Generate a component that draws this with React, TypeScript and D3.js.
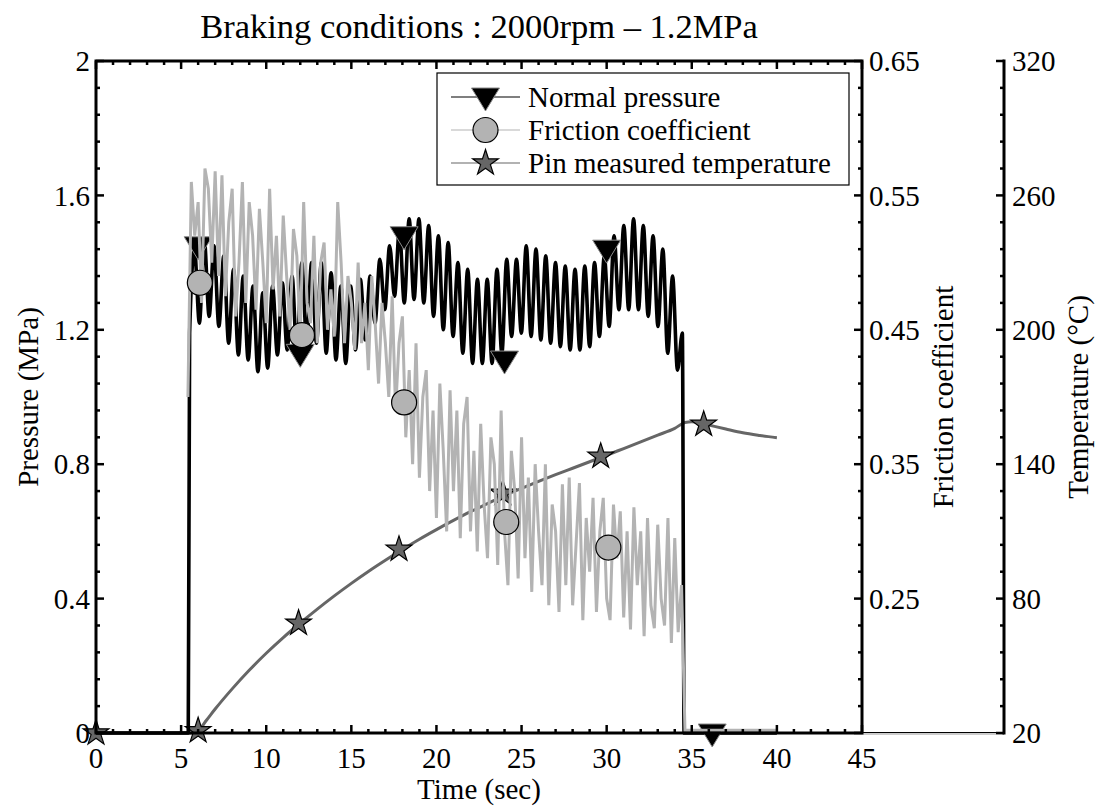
import React from 'react';
import * as d3 from 'd3';

// ---------------- data ----------------
const TITLE = 'Braking conditions : 2000rpm \u2013 1.2MPa';
const X_LABEL = 'Time (sec)';
const Y_LABEL_P = 'Pressure (MPa)';
const Y_LABEL_F = 'Friction coefficient';
const Y_LABEL_T = 'Temperature (\u00B0C)';

const X_TICKS = [0, 5, 10, 15, 20, 25, 30, 35, 40, 45];
const P_TICKS = [0, 0.4, 0.8, 1.2, 1.6, 2];
const P_TICK_LABELS = ['0', '0.4', '0.8', '1.2', '1.6', '2'];
const F_TICKS = [0.25, 0.35, 0.45, 0.55, 0.65];
const F_TICK_LABELS = ['0.25', '0.35', '0.45', '0.55', '0.65'];
const T_TICKS = [20, 80, 140, 200, 260, 320];
const T_TICK_LABELS = ['20', '80', '140', '200', '260', '320'];

const LEGEND_LABELS = ['Normal pressure', 'Friction coefficient', 'Pin measured temperature'];

// Normal pressure (MPa): off, then oscillating between successive peaks and troughs
const PRESSURE_OFF_BEFORE: [number, number][] = [[0, 0], [5.42, 0]];
const PRESSURE_START = 5.5;
const PRESSURE_HALF_PERIOD = 0.2866;
const PRESSURE_FIRST = 1.19;
const pressurePeaks = [
  1.44, 1.47, 1.45, 1.42, 1.38, 1.36, 1.33, 1.31, 1.33, 1.34,
  1.36, 1.40, 1.40, 1.40, 1.37, 1.33, 1.33, 1.35, 1.36, 1.41,
  1.45, 1.50, 1.53, 1.53, 1.51, 1.48, 1.46, 1.40, 1.38, 1.35,
  1.35, 1.38, 1.41, 1.41, 1.45, 1.44, 1.42, 1.40, 1.39, 1.38,
  1.39, 1.40, 1.42, 1.48, 1.51, 1.53, 1.51, 1.48, 1.44, 1.36,
  1.19,
];
const pressureTroughs = [
  1.22, 1.24, 1.21, 1.16, 1.125, 1.11, 1.075, 1.086, 1.125, 1.14,
  1.12, 1.16, 1.16, 1.13, 1.11, 1.10, 1.14, 1.17, 1.22, 1.26,
  1.30, 1.28, 1.29, 1.28, 1.24, 1.20, 1.18, 1.13, 1.10, 1.10,
  1.10, 1.13, 1.18, 1.19, 1.18, 1.17, 1.16, 1.15, 1.14, 1.14,
  1.15, 1.18, 1.21, 1.26, 1.26, 1.26, 1.24, 1.21, 1.13, 1.08,
];
const PRESSURE_OFF_AFTER: [number, number][] = [[34.55, 0], [40, 0]];
const pressureMarkers: [number, number][] = [
  [6.0, 1.45], [12.0, 1.13], [18.1, 1.48], [24.0, 1.11], [30.0, 1.44], [36.2, 0],
];

// Friction coefficient, sampled every 0.2 s from 5.4 s
const FRICTION_START = 5.4;
const FRICTION_STEP = 0.2;
const frictionValues = [
  0.40, 0.56, 0.52, 0.545, 0.47, 0.57, 0.555, 0.50, 0.568, 0.49,
  0.565, 0.475, 0.53, 0.555, 0.46, 0.50, 0.56, 0.47, 0.545, 0.52,
  0.465, 0.54, 0.50, 0.455, 0.555, 0.48, 0.52, 0.46, 0.535, 0.49,
  0.45, 0.525, 0.505, 0.445, 0.545, 0.47, 0.455, 0.52, 0.44, 0.50,
  0.515, 0.45, 0.48, 0.445, 0.545, 0.50, 0.44, 0.49, 0.47, 0.435,
  0.50, 0.44, 0.47, 0.42, 0.49, 0.455, 0.41, 0.47, 0.44, 0.40,
  0.475, 0.39, 0.44, 0.46, 0.37, 0.42, 0.35, 0.44, 0.34, 0.40,
  0.42, 0.33, 0.39, 0.31, 0.41, 0.36, 0.30, 0.405, 0.33, 0.39,
  0.295, 0.38, 0.40, 0.30, 0.36, 0.285, 0.38, 0.32, 0.28, 0.37,
  0.35, 0.275, 0.39, 0.30, 0.26, 0.36, 0.33, 0.265, 0.37, 0.28,
  0.34, 0.255, 0.35, 0.30, 0.26, 0.35, 0.245, 0.32, 0.30, 0.24,
  0.335, 0.26, 0.34, 0.245, 0.29, 0.336, 0.234, 0.31, 0.27, 0.325,
  0.24, 0.30, 0.325, 0.25, 0.234, 0.32, 0.28, 0.315, 0.236, 0.30,
  0.227, 0.318, 0.26, 0.30, 0.222, 0.31, 0.245, 0.228, 0.305, 0.25,
  0.23, 0.31, 0.217, 0.295, 0.225, 0.26,
];
const FRICTION_AFTER: [number, number][] = [[34.6, 0.152], [40, 0.152]];
const frictionMarkers: [number, number][] = [
  [6.1, 0.485], [12.1, 0.446], [18.1, 0.396], [24.1, 0.307], [30.1, 0.288],
];

// Pin temperature (°C)
const tempTimes = [0, 5.6, 6, 6.5, 7, 8, 9, 10, 11, 12, 13, 14, 15, 16, 17, 18, 19, 20, 21, 22, 23, 24, 25, 26, 27, 28, 29, 30, 31, 32, 33, 34, 34.6, 35, 35.5, 36, 37, 38, 39, 40];
const tempValues = [20, 20, 21, 25.8, 30.7, 39.7, 48, 55.6, 62.6, 69.1, 75.3, 81.2, 86.8, 92.1, 97.1, 101.9, 106.5, 110.8, 114.9, 118.8, 122.4, 126, 129.2, 132.3, 135.3, 138.2, 141.1, 144, 147, 150, 153, 156, 158.6, 158.9, 158.4, 157.5, 155.7, 154, 152.8, 151.8];
const tempMarkers: [number, number][] = [
  [0, 20], [6.0, 21], [11.9, 69], [17.8, 102], [23.9, 127], [29.65, 143.5], [35.7, 157.8],
];

// ---------------- layout ----------------
const W = 1099;
const H = 807;
const L = 96, R = 862, T = 61, B = 733;
const TAXIS_X = 1004;
const FONT = "'Liberation Serif', 'Times New Roman', Times, serif";
const FS = 29;

const BLACK = '#000';
const FRIC_GRAY = '#b3b3b3';
const TEMP_GRAY = '#666666';

const x = d3.scaleLinear().domain([0, 45]).range([L, R]);
const yP = d3.scaleLinear().domain([0, 2]).range([B, T]);
const yF = d3.scaleLinear().domain([0.15, 0.65]).range([B, T]);
const yT = d3.scaleLinear().domain([20, 320]).range([B, T]);

function buildPressure(): [number, number][] {
  const pts: [number, number][] = [...PRESSURE_OFF_BEFORE];
  pts.push([PRESSURE_START, PRESSURE_FIRST]);
  let k = 1;
  for (let i = 0; i < pressurePeaks.length; i++) {
    pts.push([PRESSURE_START + k * PRESSURE_HALF_PERIOD, pressurePeaks[i]]);
    k++;
    if (i < pressureTroughs.length) {
      pts.push([PRESSURE_START + k * PRESSURE_HALF_PERIOD, pressureTroughs[i]]);
      k++;
    }
  }
  return pts.concat(PRESSURE_OFF_AFTER);
}
function buildFriction(): [number, number][] {
  const pts: [number, number][] = frictionValues.map((v, i) => [FRICTION_START + i * FRICTION_STEP, v]);
  return pts.concat(FRICTION_AFTER);
}
const tempData: [number, number][] = tempTimes.map((t, i) => [t, tempValues[i]]);

const pressureLine = d3.line<[number, number]>().x(d => x(d[0])).y(d => yP(d[1])).curve(d3.curveMonotoneX);
const frictionLine = d3.line<[number, number]>().x(d => x(d[0])).y(d => yF(d[1]));
const tempLine = d3.line<[number, number]>().x(d => x(d[0])).y(d => yT(d[1])).curve(d3.curveMonotoneX);

function starPath(R0: number) {
  const r = R0 * 0.382;
  const pts: string[] = [];
  for (let i = 0; i < 10; i++) {
    const a = -Math.PI / 2 + (i * Math.PI) / 5;
    const rr = i % 2 === 0 ? R0 : r;
    pts.push(`${(rr * Math.cos(a)).toFixed(2)},${(rr * Math.sin(a)).toFixed(2)}`);
  }
  return 'M' + pts.join('L') + 'Z';
}
const STAR = starPath(13.5);
const TRI = 'M-14,-9L14,-9L0,14Z';

const Tri = ({ cx, cy }: { cx: number; cy: number }) => (
  <path d={TRI} transform={`translate(${cx},${cy})`} fill={BLACK} stroke="#8a8a8a" strokeWidth={1} />
);
const Circ = ({ cx, cy }: { cx: number; cy: number }) => (
  <circle cx={cx} cy={cy} r={12.5} fill={FRIC_GRAY} stroke={BLACK} strokeWidth={1.2} />
);
const Star = ({ cx, cy }: { cx: number; cy: number }) => (
  <path d={STAR} transform={`translate(${cx},${cy})`} fill={TEMP_GRAY} stroke={BLACK} strokeWidth={1.2} />
);

function minorTicks(lo: number, hi: number, step: number) {
  const n = Math.round((hi - lo) / step);
  return d3.range(n + 1).map(i => lo + i * step);
}

const txt = { fontFamily: FONT };

export default function App() {
  const xMinor = minorTicks(0, 45, 1);
  const pMinor = minorTicks(0, 2, 0.08);
  const fMinor = minorTicks(0.15, 0.65, 0.02);
  const tMinor = minorTicks(20, 320, 12);
  const MAJ = 8, MIN = 4, TW = 2.5;

  const clipId = 'plotClip';

  return (
    <svg width={W} height={H} style={{ position: 'absolute', left: 0, top: 0, background: '#fff', fontFamily: FONT }}>
      <defs>
        <clipPath id={clipId}>
          <rect x={L} y={T - 20} width={R - L} height={B - T + 40} />
        </clipPath>
      </defs>
      <rect x={0} y={0} width={W} height={H} fill="#fff" />

      {/* third axis baseline */}
      <line x1={R} x2={TAXIS_X} y1={B - 0.5} y2={B - 0.5} stroke={BLACK} strokeWidth={1} />
      <line x1={R} x2={TAXIS_X} y1={B + 1} y2={B + 1} stroke="#999" strokeWidth={1.2} />

      {/* data: temperature underneath, then pressure, then friction */}
      <path d={tempLine(tempData) || ''} fill="none" stroke={TEMP_GRAY} strokeWidth={3} />
      {tempMarkers.map((m, i) => <Star key={'tm' + i} cx={x(m[0])} cy={yT(m[1])} />)}
      <g clipPath={`url(#${clipId})`}>
        <path d={pressureLine(buildPressure()) || ''} fill="none" stroke={BLACK} strokeWidth={3.6} strokeLinejoin="round" />
      </g>
      {pressureMarkers.map((m, i) => <Tri key={'pm' + i} cx={x(m[0])} cy={yP(m[1])} />)}
      <g clipPath={`url(#${clipId})`}>
        <path d={frictionLine(buildFriction()) || ''} fill="none" stroke={FRIC_GRAY} strokeWidth={3} strokeLinejoin="miter" />
      </g>
      {frictionMarkers.map((m, i) => <Circ key={'fm' + i} cx={x(m[0])} cy={yF(m[1])} />)}

      {/* box */}
      <rect x={L} y={T} width={R - L} height={B - T} fill="none" stroke={BLACK} strokeWidth={3} />

      {/* x ticks bottom and top */}
      {xMinor.map((v, i) => {
        const isMaj = X_TICKS.includes(v);
        const len = isMaj ? MAJ : MIN;
        return (
          <g key={'xt' + i}>
            <line x1={x(v)} x2={x(v)} y1={B} y2={B - len} stroke={BLACK} strokeWidth={TW} />
            <line x1={x(v)} x2={x(v)} y1={T} y2={T + len} stroke={BLACK} strokeWidth={TW} />
          </g>
        );
      })}
      {X_TICKS.map((v, i) => (
        <text key={'xl' + i} x={x(v)} y={768} textAnchor="middle" fontSize={FS} style={txt}>{String(v)}</text>
      ))}

      {/* left pressure axis */}
      {pMinor.map((v, i) => {
        const isMaj = P_TICKS.some(t => Math.abs(t - v) < 1e-6);
        return <line key={'pt' + i} x1={L} x2={L + (isMaj ? MAJ : MIN)} y1={yP(v)} y2={yP(v)} stroke={BLACK} strokeWidth={TW} />;
      })}
      {P_TICKS.map((v, i) => (
        <text key={'pl' + i} x={90} y={yP(v)} dy="0.35em" textAnchor="end" fontSize={FS} style={txt}>{P_TICK_LABELS[i]}</text>
      ))}

      {/* right friction axis */}
      {fMinor.map((v, i) => {
        const isMaj = F_TICKS.some(t => Math.abs(t - v) < 1e-6) || Math.abs(v - 0.15) < 1e-6;
        return <line key={'ft' + i} x1={R} x2={R - (isMaj ? MAJ : MIN)} y1={yF(v)} y2={yF(v)} stroke={BLACK} strokeWidth={TW} />;
      })}
      {F_TICKS.map((v, i) => (
        <text key={'fl' + i} x={869} y={yF(v)} dy="0.35em" textAnchor="start" fontSize={FS} style={txt}>{F_TICK_LABELS[i]}</text>
      ))}

      {/* temperature axis */}
      <line x1={TAXIS_X} x2={TAXIS_X} y1={T - 1.5} y2={B + 1.5} stroke={BLACK} strokeWidth={3} />
      {tMinor.map((v, i) => {
        const isMaj = T_TICKS.includes(v);
        return <line key={'tt' + i} x1={TAXIS_X} x2={TAXIS_X - (isMaj ? MAJ : MIN)} y1={yT(v)} y2={yT(v)} stroke={BLACK} strokeWidth={TW} />;
      })}
      {T_TICKS.map((v, i) => (
        <text key={'tl' + i} x={1012} y={yT(v)} dy="0.35em" textAnchor="start" fontSize={FS} style={txt}>{T_TICK_LABELS[i]}</text>
      ))}

      {/* labels */}
      <text x={479} y={38} textAnchor="middle" fontSize={34.5} style={txt}>{TITLE}</text>
      <text x={479} y={799} textAnchor="middle" fontSize={FS} style={txt}>{X_LABEL}</text>
      <text transform={`translate(38,${(T + B) / 2}) rotate(-90)`} textAnchor="middle" fontSize={FS} style={txt}>{Y_LABEL_P}</text>
      <text transform={`translate(953,${(T + B) / 2}) rotate(-90)`} textAnchor="middle" fontSize={FS} style={txt}>{Y_LABEL_F}</text>
      <text transform={`translate(1088,${(T + B) / 2}) rotate(-90)`} textAnchor="middle" fontSize={FS} style={txt}>{Y_LABEL_T}</text>

      {/* legend */}
      <g>
        <rect x={437} y={73} width={412} height={112} fill="#fff" stroke={BLACK} strokeWidth={1.2} />
        {[0, 1, 2].map(i => {
          const cy = 97 + i * 33;
          const col = i === 0 ? BLACK : i === 1 ? FRIC_GRAY : TEMP_GRAY;
          return (
            <g key={'lg' + i}>
              <line x1={451} x2={520} y1={cy} y2={cy} stroke={col} strokeWidth={1.2} />
              {i === 0 && <Tri cx={485.5} cy={cy} />}
              {i === 1 && <Circ cx={485.5} cy={cy} />}
              {i === 2 && <Star cx={485.5} cy={cy} />}
              <text x={528} y={cy} dy="0.35em" fontSize={FS} style={txt}>{LEGEND_LABELS[i]}</text>
            </g>
          );
        })}
      </g>
    </svg>
  );
}
